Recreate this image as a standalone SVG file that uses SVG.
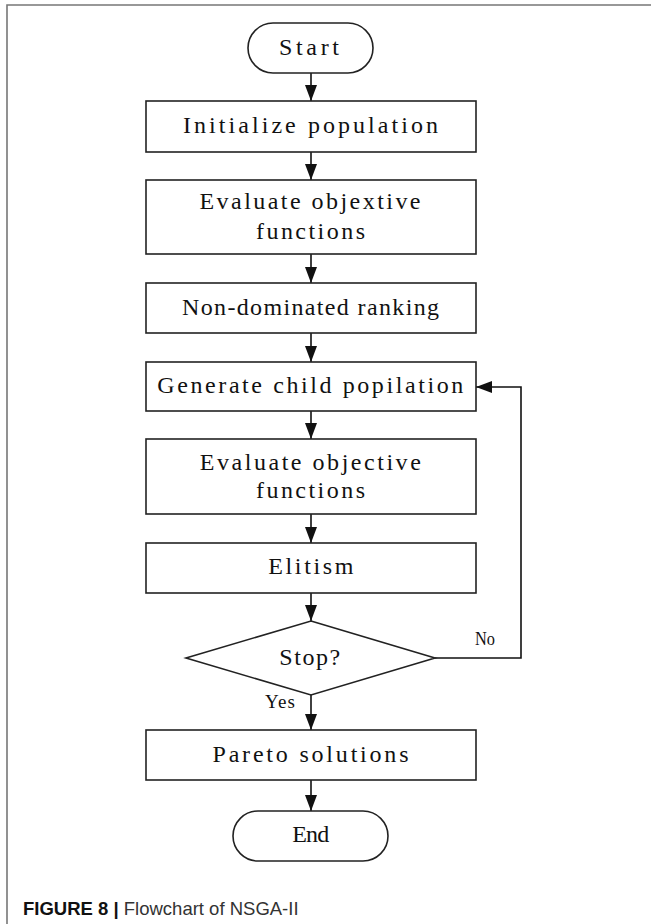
<svg xmlns="http://www.w3.org/2000/svg" width="651" height="924" viewBox="0 0 651 924">
<style>
.box{fill:#fff;stroke:#222;stroke-width:1.6}
.t{font-family:"Liberation Serif","Times New Roman",serif;font-size:24px;fill:#111;text-anchor:middle}
.s{font-family:"Liberation Serif","Times New Roman",serif;font-size:19px;fill:#111;text-anchor:middle}
.c{stroke:#111;stroke-width:1.6;fill:none}
.frame{stroke:#777;stroke-width:1.6;fill:none}
.cap{font-family:"Liberation Sans",Arial,sans-serif;font-size:18.5px;fill:#333}
</style>
<defs>
<marker id="ah" markerUnits="userSpaceOnUse" markerWidth="16" markerHeight="12" refX="16" refY="6" orient="auto">
<path d="M0,0 L16,6 L0,12 z" fill="#111"/>
</marker>
</defs>
<rect width="651" height="924" fill="#fff"/>
<path class="frame" d="M7,924 V5 H651"/>

<g id="connectors">
<line class="c" x1="311" y1="73" x2="311" y2="101" marker-end="url(#ah)"/>
<line class="c" x1="311" y1="152" x2="311" y2="180" marker-end="url(#ah)"/>
<line class="c" x1="311" y1="254" x2="311" y2="283" marker-end="url(#ah)"/>
<line class="c" x1="311" y1="333" x2="311" y2="362" marker-end="url(#ah)"/>
<line class="c" x1="311" y1="411" x2="311" y2="439" marker-end="url(#ah)"/>
<line class="c" x1="311" y1="514" x2="311" y2="543" marker-end="url(#ah)"/>
<line class="c" x1="311" y1="593" x2="311" y2="621" marker-end="url(#ah)"/>
<line class="c" x1="311" y1="695" x2="311" y2="730" marker-end="url(#ah)"/>
<line class="c" x1="311" y1="780" x2="311" y2="811" marker-end="url(#ah)"/>
<path class="c" d="M435,658 H521 V387 H476" marker-end="url(#ah)"/>
<text class="s" x="485" y="645" textLength="20" lengthAdjust="spacingAndGlyphs">No</text>
<text class="s" x="280" y="708" textLength="30" lengthAdjust="spacing">Yes</text>
</g>

<g id="start">
<rect class="box" x="248" y="23" width="125" height="50" rx="25"/>
<text class="t" x="309" y="55" textLength="60" lengthAdjust="spacing">Start</text>
</g>
<g id="init">
<rect class="box" x="146" y="101" width="330" height="51"/>
<text class="t" x="310.5" y="133" textLength="255" lengthAdjust="spacing">Initialize population</text>
</g>
<g id="eval1">
<rect class="box" x="146" y="180" width="330" height="74"/>
<text class="t" x="310" y="209" textLength="221" lengthAdjust="spacing">Evaluate objextive</text>
<text class="t" x="310.5" y="239" textLength="109" lengthAdjust="spacing">functions</text>
</g>
<g id="rank">
<rect class="box" x="146" y="283" width="330" height="50"/>
<text class="t" x="310.5" y="315" textLength="257" lengthAdjust="spacing">Non-dominated ranking</text>
</g>
<g id="generate">
<rect class="box" x="146" y="362" width="330" height="49"/>
<text class="t" x="310.3" y="393" textLength="306" lengthAdjust="spacing">Generate child popilation</text>
</g>
<g id="eval2">
<rect class="box" x="146" y="439" width="330" height="75"/>
<text class="t" x="310.3" y="470" textLength="221" lengthAdjust="spacing">Evaluate objective</text>
<text class="t" x="310.5" y="498" textLength="109" lengthAdjust="spacing">functions</text>
</g>
<g id="elitism">
<rect class="box" x="146" y="543" width="330" height="50"/>
<text class="t" x="310.8" y="574" textLength="85" lengthAdjust="spacing">Elitism</text>
</g>
<g id="stop">
<polygon class="box" points="311,621 435,658 311,695 186,658"/>
<text class="t" x="309.7" y="665" textLength="61" lengthAdjust="spacing">Stop?</text>
</g>
<g id="pareto">
<rect class="box" x="146" y="730" width="330" height="50"/>
<text class="t" x="310.5" y="762" textLength="196" lengthAdjust="spacing">Pareto solutions</text>
</g>
<g id="end">
<rect class="box" x="233" y="811" width="155" height="50" rx="25"/>
<text class="t" x="310.7" y="842" textLength="37" lengthAdjust="spacing">End</text>
</g>

<text class="cap" x="23" y="915"><tspan font-weight="bold" fill="#111">FIGURE 8 | </tspan>Flowchart of NSGA-II</text>
</svg>
